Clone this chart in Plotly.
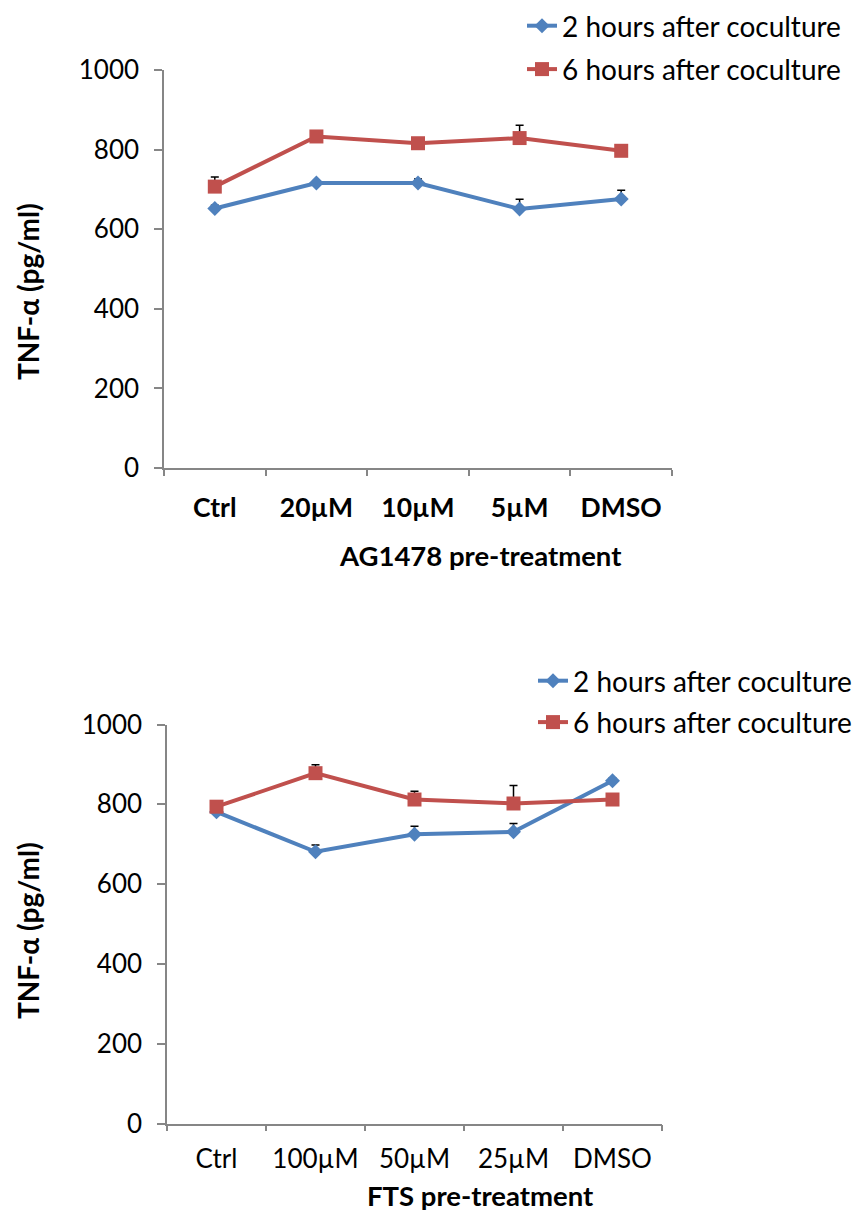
import plotly.graph_objects as go

W, H = 859, 1214

# Panel A: AG1478 pre-treatment
ag_categories = ["Ctrl", "20µM", "10µM", "5µM", "DMSO"]
ag_2h = [652, 716, 716, 651, 676]
ag_2h_err = [8, 6, 10, 24, 22]
ag_6h = [707, 833, 816, 829, 797]
ag_6h_err = [24, 6, 6, 32, 6]

# Panel B: FTS pre-treatment
fts_categories = ["Ctrl", "100µM", "50µM", "25µM", "DMSO"]
fts_2h = [781, 681, 725, 731, 859]
fts_2h_err = [6, 17, 20, 21, 6]
fts_6h = [794, 878, 812, 802, 812]
fts_6h_err = [6, 21, 21, 45, 6]

series_names = ["2 hours after coculture", "6 hours after coculture"]
y_ticks = [0, 200, 400, 600, 800, 1000]

BLUE = "#4F81BD"
RED = "#C0504D"
AXIS = "#868686"
FONT = "Lato"


def px_x(p):
    return p / W


def px_y(p):
    return 1 - p / H


fig = go.Figure()


def add_panel(idx, cats, v2, e2, v6, e6, xdom, ydom, legend_name, legend_xy,
              legend_gap, tick_bold, tick_standoff, x_title, x_title_y, y_title_y):
    xa = "x" if idx == 1 else f"x{idx}"
    ya = "y" if idx == 1 else f"y{idx}"
    specs = [
        (series_names[0], v2, e2, BLUE, "diamond", 11.5),
        (series_names[1], v6, e6, RED, "square", 14),
    ]
    for name, vals, errs, color, sym, size in specs:
        fig.add_trace(go.Scatter(
            x=cats, y=vals, name=name, mode="lines+markers",
            xaxis=xa, yaxis=ya, legend=legend_name, legendgroup=name + legend_name,
            line=dict(color=color, width=4),
            marker=dict(color=color, symbol=sym, size=size, line=dict(width=0)),
            error_y=dict(type="data", symmetric=False, array=errs,
                         arrayminus=[0] * len(errs), color="black",
                         thickness=1.5, width=4),
        ))
    xkey = "xaxis" if idx == 1 else f"xaxis{idx}"
    ykey = "yaxis" if idx == 1 else f"yaxis{idx}"
    fig.update_layout({
        xkey: dict(
            domain=xdom, anchor=ya, type="category", range=[-0.5, 4.5],
            automargin=False,
            tickson="boundaries", ticks="outside", ticklen=6, tickcolor=AXIS,
            tickwidth=1.5, showline=True, linecolor=AXIS, linewidth=1.5,
            showgrid=False, zeroline=False, ticklabelstandoff=tick_standoff,
            tickfont=dict(family=FONT, size=26.5 if tick_bold else 26, color="black",
                          weight="bold" if tick_bold else "normal"),
        ),
        ykey: dict(
            domain=ydom, anchor=xa, range=[0, 1000], tickvals=y_ticks,
            automargin=False,
            ticks="outside", ticklen=8, tickcolor=AXIS, tickwidth=1.5,
            showline=True, linecolor=AXIS, linewidth=1.5, showgrid=False,
            zeroline=False, ticklabelstandoff=10,
            tickfont=dict(family=FONT, size=26, color="black"),
        ),
        legend_name: dict(
            x=legend_xy[0], y=legend_xy[1], xanchor="left", yanchor="top",
            bgcolor="rgba(0,0,0,0)", traceorder="grouped",
            tracegroupgap=legend_gap,
            font=dict(family=FONT, size=28, color="black"),
        ),
    })
    fig.add_annotation(
        text=x_title, xref="paper", yref="paper",
        x=px_x(480), y=x_title_y, showarrow=False,
        xanchor="center", yanchor="middle",
        font=dict(family=FONT, size=27.5, color="black", weight="bold"),
    )
    fig.add_annotation(
        text="TNF-α (pg/ml)", xref="paper", yref="paper",
        x=px_x(28), y=y_title_y, showarrow=False, textangle=-90,
        xanchor="center", yanchor="middle",
        font=dict(family=FONT, size=28, color="black", weight="bold"),
    )


add_panel(1, ag_categories, ag_2h, ag_2h_err, ag_6h, ag_6h_err,
          [px_x(164), px_x(672)], [px_y(468), px_y(70)],
          "legend", (px_x(522), px_y(1)), 4, True, 15,
          "AG1478 pre-treatment", px_y(555), px_y(292))

add_panel(2, fts_categories, fts_2h, fts_2h_err, fts_6h, fts_6h_err,
          [px_x(167), px_x(662)], [px_y(1123.5), px_y(724.5)],
          "legend2", (px_x(533), px_y(656)), 2, False, 12,
          "FTS pre-treatment", px_y(1195), px_y(931))

fig.update_layout(
    width=W, height=H, margin=dict(l=0, r=0, t=0, b=0, autoexpand=False),
    paper_bgcolor="white", plot_bgcolor="white", showlegend=True,
    font=dict(family=FONT),
)

fig.write_html("out.html")
